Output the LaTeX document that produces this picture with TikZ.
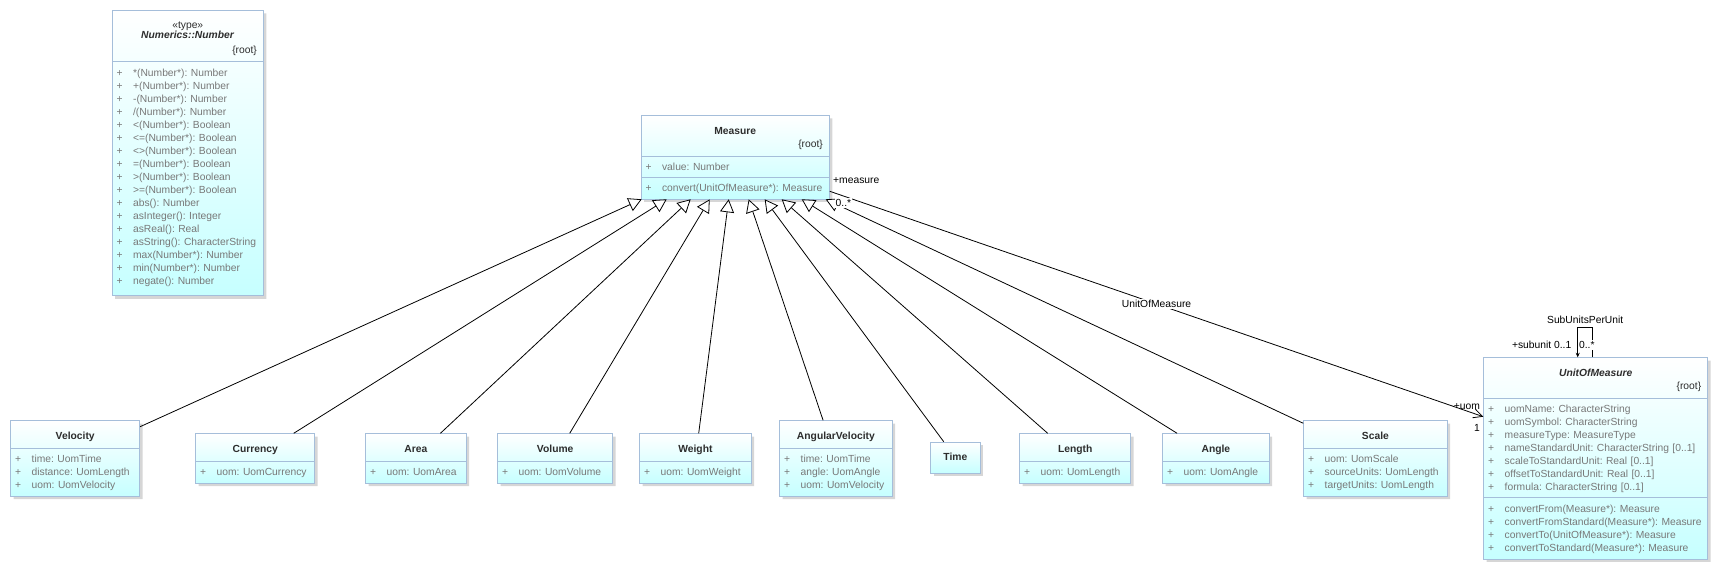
\documentclass[tikz,border=0pt]{standalone}
\usepackage{fontspec}
\setmainfont{Liberation Sans}
\usetikzlibrary{arrows.meta,shapes.multipart,shadows}

\definecolor{clsline}{RGB}{165,190,218}
\definecolor{clsfill}{RGB}{198,255,255}
\definecolor{clstext}{RGB}{120,120,120}
\definecolor{clsname}{RGB}{45,45,45}

% pieces of a class box
\newcommand{\cname}[1]{\makebox[\hsize][c]{\textcolor{clsname}{\textbf{#1}}}}
\newcommand{\troot}{\makebox[\hsize][r]{\textcolor{clsname}{\{root\}}\hspace*{2pt}}}
\newcommand{\hstrut}{\rule{0pt}{18.8pt}}
\newcommand{\hend}{\rule[-8.3pt]{0pt}{8.3pt}}
\newcommand{\fstrut}{\rule{0pt}{13.9pt}}
\newcommand{\fend}{\rule[-6.8pt]{0pt}{6.8pt}}
\newcommand{\pl}{\makebox[16.5pt][l]{+}}

\begin{document}
\frenchspacing
\begin{tikzpicture}[x=1pt,y=-1pt,>=Latex,line width=0.8pt,
  font=\fontsize{10.3}{13}\selectfont]
  \tikzstyle{cls}=[draw=clsline,top color=white,bottom color=clsfill,align=left,anchor=north west,
    inner xsep=4.5pt,inner ysep=0pt,text=clstext,
    drop shadow={shadow xshift=3pt,shadow yshift=-3pt,fill=black!16,opacity=1}]
  \tikzstyle{split2}=[rectangle split,rectangle split parts=2]
  \tikzstyle{split3}=[rectangle split,rectangle split parts=3]
  \tikzstyle{gen}=[-{Triangle[length=13pt,width=14pt,fill=white]}]
  \tikzstyle{assoc}=[-{Straight Barb[length=9pt,width=9pt]}]
  \tikzstyle{lbl}=[inner sep=1pt,text=black]
  \useasboundingbox (0,0) rectangle (1718,568);

  \node[cls,split2,text width=142.3pt] (number) at (111.7,10) {%
    \rule{0pt}{17.5pt}\makebox[\hsize][c]{\textcolor{clsname}{«type»}}\\[-3pt]
    \cname{\textit{Numerics::Number}}\\[2.3pt]
    \troot\rule[-7.2pt]{0pt}{7.2pt}
    \nodepart{two}\rule{0pt}{14.5pt}\pl *(Number*): Number\\
    \pl +(Number*): Number\\
    \pl -(Number*): Number\\
    \pl /(Number*): Number\\
    \pl <(Number*): Boolean\\
    \pl <=(Number*): Boolean\\
    \pl <>(Number*): Boolean\\
    \pl =(Number*): Boolean\\
    \pl >(Number*): Boolean\\
    \pl >=(Number*): Boolean\\
    \pl abs(): Number\\
    \pl asInteger(): Integer\\
    \pl asReal(): Real\\
    \pl asString(): CharacterString\\
    \pl max(Number*): Number\\
    \pl min(Number*): Number\\
    \pl negate(): Number\rule[-11.3pt]{0pt}{11.3pt}};

  \node[cls,split3,text width=179.3pt] (measure) at (640.7,115) {%
    \hstrut\cname{Measure}\\[-0.4pt]\troot\hend
    \nodepart{two}\fstrut\pl value: Number\fend
    \nodepart{three}\fstrut\pl convert(UnitOfMeasure*): Measure\fend};

  \node[cls,split3,text width=215pt] (uom) at (1483.3,357.3) {%
    \hstrut\cname{\textit{UnitOfMeasure}}\\[-0.4pt]\troot\hend
    \nodepart{two}\fstrut\pl uomName: CharacterString\\
    \pl uomSymbol: CharacterString\\
    \pl measureType: MeasureType\\
    \pl nameStandardUnit: CharacterString [0..1]\\
    \pl scaleToStandardUnit: Real [0..1]\\
    \pl offsetToStandardUnit: Real [0..1]\\
    \pl formula: CharacterString [0..1]\fend
    \nodepart{three}\fstrut\pl convertFrom(Measure*): Measure\\
    \pl convertFromStandard(Measure*): Measure\\
    \pl convertTo(UnitOfMeasure*): Measure\\
    \pl convertToStandard(Measure*): Measure\rule[-7.5pt]{0pt}{7.5pt}};

  % subclasses of Measure
  \node[cls,split2,text width=120pt] (velocity) at (10.3,420.3) {%
    \hstrut\cname{Velocity}\hend
    \nodepart{two}\fstrut\pl time: UomTime\\
    \pl distance: UomLength\\
    \pl uom: UomVelocity\fend};
  \node[cls,split2,text width=110pt] (currency) at (195.3,433.3) {%
    \hstrut\cname{Currency}\hend
    \nodepart{two}\fstrut\pl uom: UomCurrency\fend};
  \node[cls,split2,text width=91.4pt] (area) at (365.3,433.3) {%
    \hstrut\cname{Area}\hend
    \nodepart{two}\fstrut\pl uom: UomArea\fend};
  \node[cls,split2,text width=106pt] (volume) at (497.3,433.3) {%
    \hstrut\cname{Volume}\hend
    \nodepart{two}\fstrut\pl uom: UomVolume\fend};
  \node[cls,split2,text width=102.4pt] (weight) at (639.3,433.3) {%
    \hstrut\cname{Weight}\hend
    \nodepart{two}\fstrut\pl uom: UomWeight\fend};
  \node[cls,split2,text width=103.4pt] (angvel) at (779.3,420.3) {%
    \hstrut\cname{AngularVelocity}\hend
    \nodepart{two}\fstrut\pl time: UomTime\\
    \pl angle: UomAngle\\
    \pl uom: UomVelocity\fend};
  \node[cls,text width=40.4pt] (time) at (930.3,441.7) {%
    \rule{0pt}{18.5pt}\cname{Time}\rule[-12.5pt]{0pt}{12.5pt}};
  \node[cls,split2,text width=102pt] (length) at (1019.3,433.3) {%
    \hstrut\cname{Length}\hend
    \nodepart{two}\fstrut\pl uom: UomLength\fend};
  \node[cls,split2,text width=97.4pt] (angle) at (1162.3,433.3) {%
    \hstrut\cname{Angle}\hend
    \nodepart{two}\fstrut\pl uom: UomAngle\fend};
  \node[cls,split2,text width=134.4pt] (scale) at (1303.3,420.3) {%
    \hstrut\cname{Scale}\hend
    \nodepart{two}\fstrut\pl uom: UomScale\\
    \pl sourceUnits: UomLength\\
    \pl targetUnits: UomLength\fend};

  % generalizations
  \draw[gen] ([yshift=-6.4pt]velocity.north east) -- ([xshift=1pt]measure.south west);
  \draw[gen] ([xshift=38.5pt]currency.north) -- ([xshift=26pt]measure.south west);
  \draw[gen] ([xshift=24.5pt]area.north) -- ([xshift=50pt]measure.south west);
  \draw[gen] ([xshift=14.5pt]volume.north) -- ([xshift=69pt]measure.south west);
  \draw[gen] ([xshift=3.3pt]weight.north) -- ([xshift=88pt]measure.south west);
  \draw[gen] ([xshift=-12.8pt]angvel.north) -- ([xshift=108pt]measure.south west);
  \draw[gen] ([xshift=-11.7pt]time.north) -- ([xshift=124pt]measure.south west);
  \draw[gen] ([xshift=-27.5pt]length.north) -- ([xshift=141pt]measure.south west);
  \draw[gen] ([xshift=-38.8pt]angle.north) -- ([xshift=161pt]measure.south west);
  \draw[gen] ([yshift=-3pt]scale.north west) -- ([xshift=185pt]measure.south west);

  % associations
  \draw[assoc] ([yshift=8pt]measure.south east)
    -- node[lbl,fill=white]{UnitOfMeasure}
       node[lbl,at start,anchor=west,xshift=2pt,yshift=11pt]{+measure}
       node[lbl,at start,anchor=west,fill=white,xshift=4.5pt,yshift=-11.7pt]{0..*}
       node[lbl,at end,anchor=east,xshift=-2pt,yshift=9.7pt]{+uom}
       node[lbl,at end,xshift=-6.3pt,yshift=-11.3pt]{1}
    ([yshift=-59.4pt]uom.north west);
  \draw[-{Stealth[length=4.5pt,width=4pt]}] ([xshift=-3pt]uom.north) -- ++(0,-30)
    -| node[lbl,pos=0.25,anchor=south,yshift=2pt]{SubUnitsPerUnit}
       node[lbl,pos=1,anchor=east,xshift=-5pt,yshift=12.3pt]{+subunit 0..1}
       node[lbl,pos=1,anchor=west,fill=white,xshift=0pt,yshift=12.3pt]{0..*}
    ([xshift=-18pt]uom.north);
\end{tikzpicture}
\end{document}
